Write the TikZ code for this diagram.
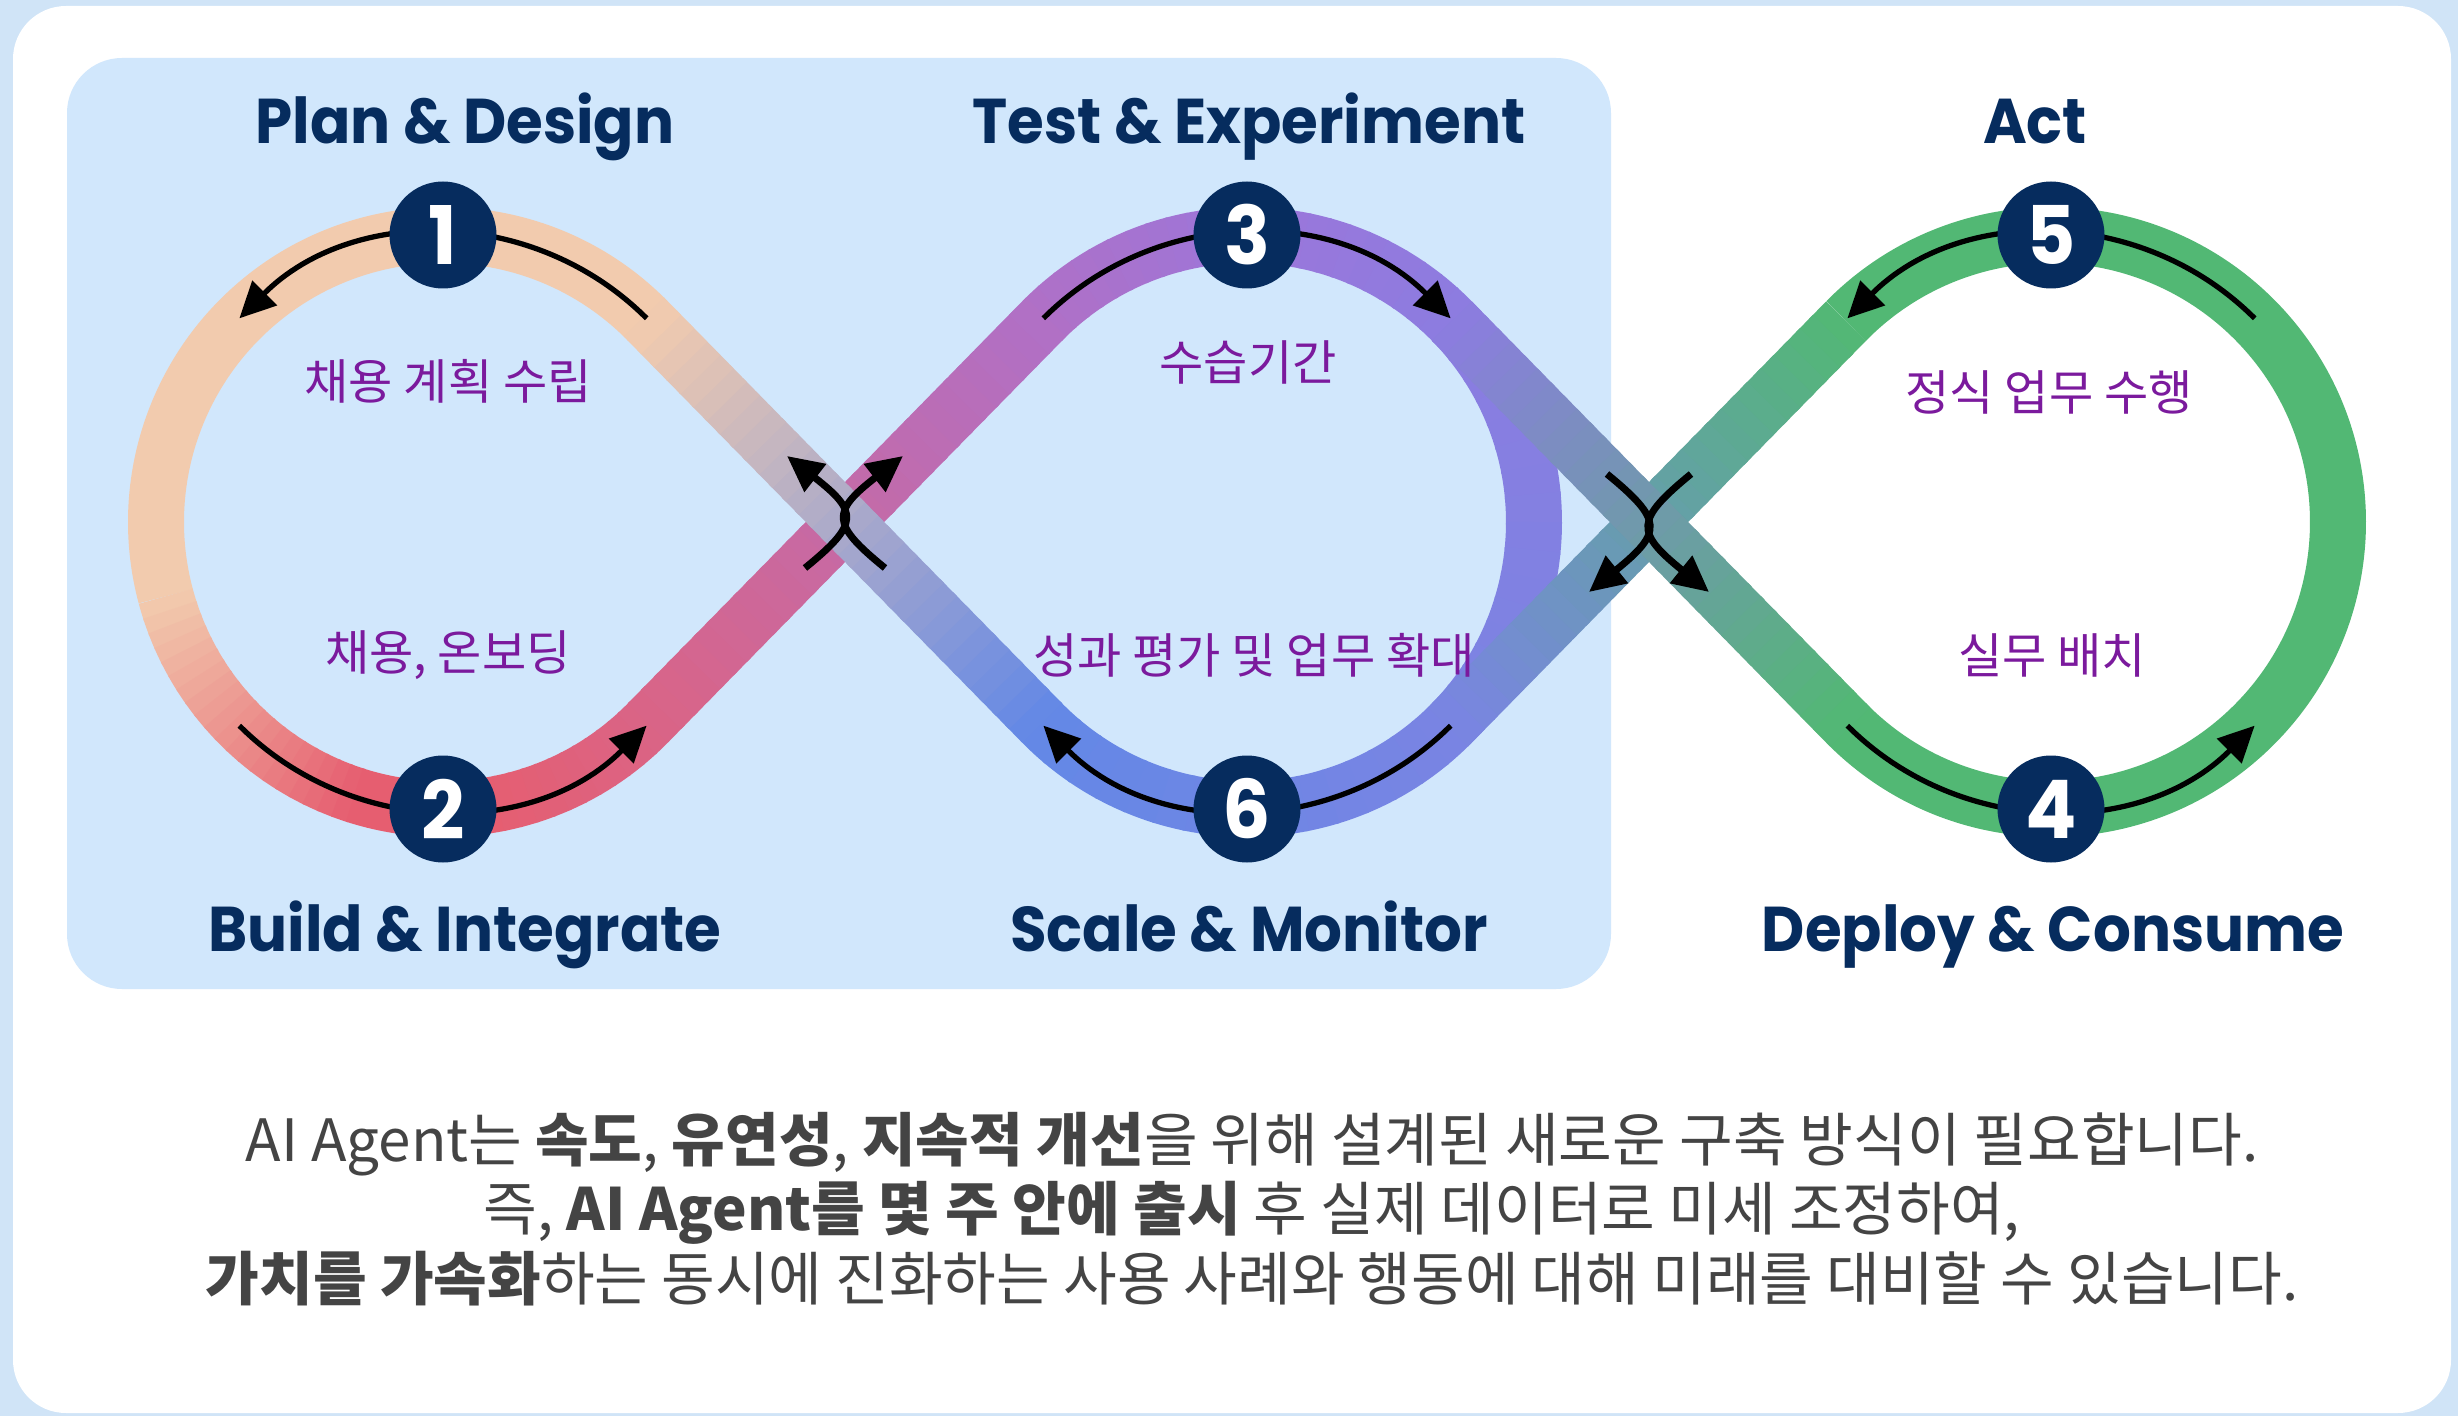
\documentclass[tikz,border=0pt]{standalone}
\usepackage{fontspec}
\setmainfont{Noto Sans CJK KR}
\newfontfamily\titlefont{Poppins}[FakeStretch=0.94]
\usetikzlibrary{calc,positioning,arrows.meta}

\definecolor{bgblue}{HTML}{D0E4F7}
\definecolor{panelblue}{HTML}{D1E7FC}
\definecolor{navy}{HTML}{062C5E}
\definecolor{labelpurple}{HTML}{7B1A9D}
\definecolor{textgray}{HTML}{444444}
\definecolor{peach}{HTML}{F2CBAE}
\definecolor{salmon}{HTML}{E65E70}
\definecolor{rose}{HTML}{DA6486}
\definecolor{purpA}{HTML}{B070C6}
\definecolor{purpT}{HTML}{9C76DA}
\definecolor{purpR}{HTML}{8C7CE0}
\definecolor{blueR}{HTML}{7A84E3}
\definecolor{blueB}{HTML}{6388E6}
\definecolor{leafgreen}{HTML}{52B874}

% band piece by piece, colour running from #5 to #6
\newcommand\gradarc[7]{% centre, radius, from, to, colours, steps
  \foreach \k in {1,...,#7}{%
    \pgfmathsetmacro\ga{(#3)+((#4)-(#3))*(\k-1)/#7}%
    \pgfmathsetmacro\gb{(#3)+((#4)-(#3))*\k/#7+0.5*sign((#4)-(#3))}%
    \pgfmathsetmacro\gp{100-100*(\k-0.5)/#7}%
    \draw[band,draw=#5!\gp!#6] ($(#1)+(\ga:#2)$) arc[start angle=\ga, end angle=\gb, radius=#2];
  }}
\newcommand\gradline[5]{% from, to, colours, steps
  \foreach \k in {1,...,#5}{%
    \pgfmathsetmacro\ga{(\k-1)/#5}%
    \pgfmathsetmacro\gb{\k/#5+0.01}%
    \pgfmathsetmacro\gp{100-100*(\k-0.5)/#5}%
    \draw[band,draw=#3!\gp!#4] ($(#1)!\ga!(#2)$) -- ($(#1)!\gb!(#2)$);
  }}

\begin{document}
\begin{tikzpicture}[
    band/.style={line width=0.56cm, line cap=butt},
    flow/.style={line width=1.5pt, -{Triangle[length=0.36cm,width=0.34cm]}},
    xflow/.style={line width=2pt, -{Triangle[length=0.36cm,width=0.34cm]}},
    stepnum/.style={circle, fill=navy, text=white, minimum size=1.07cm, inner sep=0pt,
      font=\titlefont\bfseries\fontsize{23}{23}\selectfont},
    phase/.style={text=navy, anchor=base, font=\titlefont\bfseries\fontsize{18}{18}\selectfont},
    task/.style={text=labelpurple, font=\fontsize{13.7}{15}\selectfont},
    note/.style={text=textgray, align=center, font=\fontsize{16.6}{19.7}\selectfont}
  ]
  \useasboundingbox (0,0) rectangle (24.58,14.16);
  \def\R{2.87}
  \pgfmathsetmacro\tang{acos(2.87/4.02)}
  \pgfmathsetmacro\angA{180-\tang}
  \pgfmathsetmacro\angB{\tang-180}
  \pgfmathsetmacro\angC{360-\tang}
  \coordinate (C1) at (4.43,8.94);
  \coordinate (C2) at (12.47,8.94);
  \coordinate (C3) at (20.51,8.94);
  \coordinate (X1) at (8.45,8.94);
  \coordinate (X2) at (16.49,8.94);
  \coordinate (T1a) at ($(C1)+(\tang:\R)$);
  \coordinate (T1b) at ($(C1)+(-\tang:\R)$);
  \coordinate (T2a) at ($(C2)+(\angA:\R)$);
  \coordinate (T2b) at ($(C2)+(\angB:\R)$);
  \coordinate (T2c) at ($(C2)+(\tang:\R)$);
  \coordinate (T2d) at ($(C2)+(-\tang:\R)$);
  \coordinate (T3a) at ($(C3)+(\angA:\R)$);
  \coordinate (T3b) at ($(C3)+(\angB:\R)$);

  % BACKGROUND
  \fill[bgblue] (0,0) rectangle (24.58,14.16);
  \fill[white, rounded corners=0.53cm] (0.13,0.03) rectangle (24.51,14.10);
  \fill[panelblue, rounded corners=0.55cm] (0.67,4.27) rectangle (16.11,13.58);

  % LOOPS
  \draw[band, peach] (T1a) arc[start angle=\tang, end angle=195, radius=\R];
  \gradarc{C1}{\R}{195}{252}{peach}{salmon}{20}
  \draw[band, salmon] ($(C1)+(252:\R)$) arc[start angle=252, end angle=278, radius=\R];
  \gradarc{C1}{\R}{278}{\angC}{salmon}{rose}{12}
  \draw[band, leafgreen] (T3b) arc[start angle=\angB, end angle=\angA, radius=\R];
  \gradarc{C2}{\R}{\angA}{90}{purpA}{purpT}{12}
  \gradarc{C2}{\R}{90}{\tang}{purpT}{purpR}{12}
  \gradarc{C2}{\R}{\tang}{-\tang}{purpR}{blueR}{16}
  \gradarc{C2}{\R}{-\tang}{\angB}{blueR}{blueB}{16}

  % CROSSINGS
  \gradline{T1b}{T2a}{rose}{purpA}{30}
  \gradline{T2b}{T1a}{blueB}{peach}{30}
  \gradline{T3a}{T2d}{leafgreen}{blueR}{30}
  \gradline{T2c}{T3b}{purpR}{leafgreen}{30}

  % FLOW ARROWS
  \def\r{2.88}
  \draw[flow] ($(C1)+(45:\r)$) arc[start angle=45, end angle=135, radius=\r];
  \draw[flow] ($(C1)+(225:\r)$) arc[start angle=225, end angle=315, radius=\r];
  \draw[flow] ($(C2)+(135:\r)$) arc[start angle=135, end angle=45, radius=\r];
  \draw[flow] ($(C2)+(-45:\r)$) arc[start angle=-45, end angle=-135, radius=\r];
  \draw[flow] ($(C3)+(45:\r)$) arc[start angle=45, end angle=135, radius=\r];
  \draw[flow] ($(C3)+(225:\r)$) arc[start angle=225, end angle=315, radius=\r];

  \draw[xflow] ($(X1)+(-0.40,-0.46)$) .. controls ($(X1)+(0.14,-0.02)$) and ($(X1)+(0.14,0.10)$) .. ($(X1)+(-0.58,0.66)$);
  \draw[xflow] ($(X1)+(0.40,-0.46)$) .. controls ($(X1)+(-0.14,-0.02)$) and ($(X1)+(-0.14,0.10)$) .. ($(X1)+(0.58,0.66)$);
  \draw[xflow] ($(X2)+(-0.42,0.48)$) .. controls ($(X2)+(0.14,0.02)$) and ($(X2)+(0.14,-0.10)$) .. ($(X2)+(-0.60,-0.70)$);
  \draw[xflow] ($(X2)+(0.42,0.48)$) .. controls ($(X2)+(-0.14,0.02)$) and ($(X2)+(-0.14,-0.10)$) .. ($(X2)+(0.60,-0.70)$);

  % STEPS
  \node[stepnum] (n1) at ($(C1)+(90:\R)$) {1};
  \node[stepnum] (n2) at ($(C1)+(-90:\R)$) {2};
  \node[stepnum] (n3) at ($(C2)+(90:\R)$) {3};
  \node[stepnum] (n6) at ($(C2)+(-90:\R)$) {6};
  \node[stepnum] (n5) at ($(C3)+(90:\R)$) {5};
  \node[stepnum] (n4) at ($(C3)+(-90:\R)$) {4};

  \node[phase] (t1) at (4.65,12.72) {Plan \& Design};
  \node[phase] (t3) at (12.49,12.72) {Test \& Experiment};
  \node[phase] (t5) at (20.35,12.72) {Act};
  \node[phase] (t2) at (4.65,4.65) {Build \& Integrate};
  \node[phase] (t6) at (12.49,4.65) {Scale \& Monitor};
  \node[phase] (t4) at (20.53,4.65) {Deploy \& Consume};

  \node[task] (l1) at ($(C1)+(0.05,1.41)$) {채용 계획 수립};
  \node[task] (l2) at ($(C1)+(0.05,-1.33)$) {채용, 온보딩};
  \node[task] (l3) at ($(C2)+(0.01,1.60)$) {수습기간};
  \node[task] (l6) at ($(C2)+(0.07,-1.33)$) {성과 평가 및 업무 확대};
  \node[task] (l5) at ($(C3)+(-0.02,1.30)$) {정식 업무 수행};
  \node[task] (l4) at ($(C3)+(0.01,-1.33)$) {실무 배치};

  % NOTE
  \node[note] (msg) at (12.52,2.07) {AI Agent는 \textbf{속도}, \textbf{유연성}, \textbf{지속적 개선}을 위해 설계된 새로운 구축 방식이 필요합니다.\\
    즉, \textbf{AI Agent를 몇 주 안에 출시} 후 실제 데이터로 미세 조정하여,\\
    \textbf{가치를 가속화}하는 동시에 진화하는 사용 사례와 행동에 대해 미래를 대비할 수 있습니다.};
\end{tikzpicture}
\end{document}
